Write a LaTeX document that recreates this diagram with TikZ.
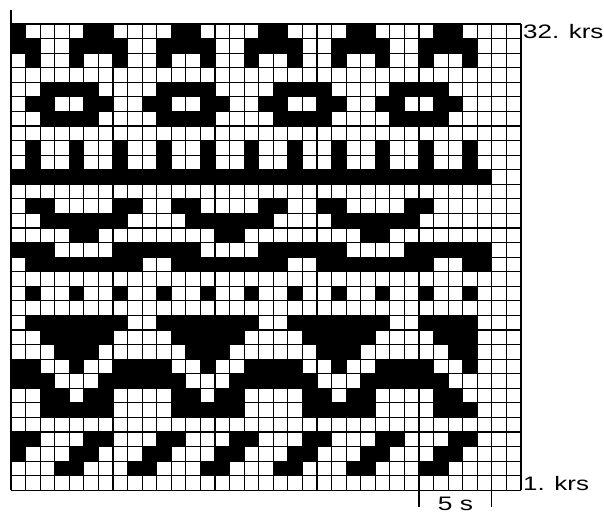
\documentclass[tikz,border=0pt]{standalone}
\usepackage{fontspec}
\setmainfont{Liberation Sans}
\begin{document}
\begin{tikzpicture}[x=1pt,y=-1pt,
  gridline/.style={line width=1.1pt, black},
  cellfill/.style={fill=black},
  lbl/.style={font=\fontsize{19.5}{24}\selectfont, inner sep=0pt}]
\def\W{14.57}
\def\X{11}
\def\Y{24}
\useasboundingbox (0,0) rectangle (604,514);
\newcommand\blkrow[2]{%
  \foreach \a/\b in {#2} {
    \fill[cellfill] ({\X+\a*\W},{\Y+#1*\W}) rectangle ({\X+(\b+1)*\W},{\Y+(#1+1)*\W});
  }}
\blkrow{0}{0/0,5/6,11/12,17/18,23/24,29/30}
\blkrow{1}{0/1,4/7,10/13,16/19,22/25,28/31}
\blkrow{2}{1/1,4/4,7/7,10/10,13/13,16/16,19/19,22/22,25/25,28/28,31/31}
\blkrow{4}{2/5,10/13,18/21,26/29}
\blkrow{5}{1/2,5/6,9/10,13/14,17/18,21/22,25/26,29/30}
\blkrow{6}{2/5,10/13,18/21,26/29}
\blkrow{8}{1/1,4/4,7/7,10/10,13/13,16/16,19/19,22/22,25/25,28/28,31/31}
\blkrow{9}{1/1,4/4,7/7,10/10,13/13,16/16,19/19,22/22,25/25,28/28,31/31}
\blkrow{10}{0/32}
\blkrow{12}{1/2,7/8,11/12,17/18,21/22,27/28}
\blkrow{13}{2/7,12/17,22/27}
\blkrow{14}{4/5,14/15,24/25}
\blkrow{15}{0/2,7/12,17/22,27/32}
\blkrow{16}{1/8,11/18,21/28,31/32}
\blkrow{18}{1/1,4/4,7/7,10/10,13/13,16/16,19/19,22/22,25/25,28/28,31/31}
\blkrow{20}{1/7,10/16,19/25,28/31}
\blkrow{21}{2/6,11/15,20/24,29/31}
\blkrow{22}{3/5,12/14,21/23,30/31}
\blkrow{23}{0/1,4/4,7/10,13/13,16/19,22/22,25/28,31/31}
\blkrow{24}{0/2,6/11,15/20,24/29}
\blkrow{25}{2/3,5/6,11/12,14/15,20/21,23/24,29/30}
\blkrow{26}{2/6,11/15,20/24,29/31}
\blkrow{28}{0/1,5/6,10/11,15/16,20/21,25/26,30/31}
\blkrow{29}{0/0,4/5,9/10,14/15,19/20,24/25,29/30}
\blkrow{30}{3/4,8/9,13/14,18/19,23/24,28/29}
% grid
\foreach \i in {0,...,35}
  \draw[gridline] ({\X+\i*\W},\Y) -- ({\X+\i*\W},{\Y+32*\W});
\foreach \j in {0,...,32}
  \draw[gridline] (\X,{\Y+\j*\W}) -- ({\X+35*\W},{\Y+\j*\W});
% axis extension
\coordinate (topL) at (\X,10);
\coordinate (gridTL) at (\X,\Y);
\draw[gridline] (topL) -- (gridTL);
% ticks
\coordinate (tA) at ({\X+28*\W},{\Y+32*\W});
\coordinate (tB) at ({\X+33*\W},{\Y+32*\W});
\coordinate (tAe) at ({\X+28*\W},507);
\coordinate (tBe) at ({\X+33*\W},507);
\draw[gridline] (tA) -- (tAe);
\draw[gridline] (tB) -- (tBe);
\node[lbl, anchor=base] (five) at ({\X+30.5*\W},510) {\scalebox{1.35}[1]{5 s}};
\node[lbl, anchor=base west] (top) at (523,38.5) {\scalebox{1.33}[1]{32. krs}};
\node[lbl, anchor=base west] (bot) at (523,490) {\scalebox{1.33}[1]{1. krs}};
\end{tikzpicture}
\end{document}
